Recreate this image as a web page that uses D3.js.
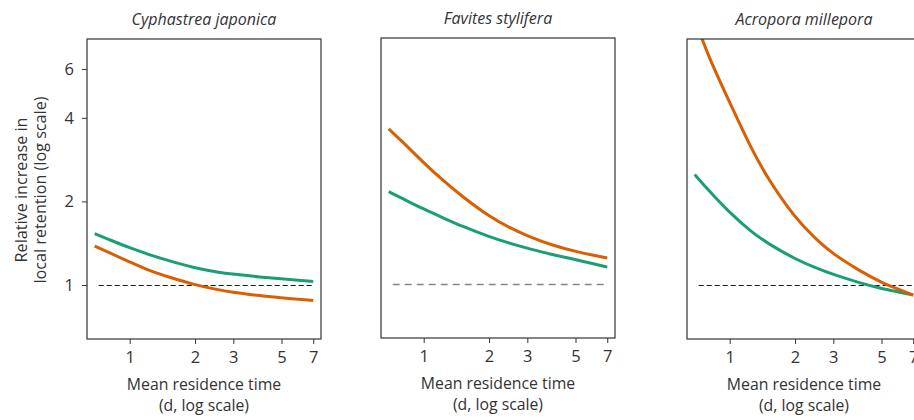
<!DOCTYPE html>
<meta charset="utf-8">
<script src="https://d3js.org/d3.v7.min.js"></script>
<style>
  body { margin: 0; background: #fff; }
  text { font-family: "Open Sans", sans-serif; fill: #333; }
</style>
<div id="my_dataviz"></div>
<script>

// data
var species = ["Cyphastrea japonica", "Favites stylifera", "Acropora millepora"];
var residence = [0.69, 0.8, 1, 1.25, 1.5, 2, 2.5, 3, 4, 5, 6, 7];

var greenCyph   = [1.53, 1.46, 1.36, 1.28, 1.225, 1.15, 1.115, 1.093, 1.068, 1.052, 1.04, 1.03];
var orangeCyph  = [1.38, 1.31, 1.21, 1.12, 1.07, 1.0, 0.965, 0.94, 0.915, 0.898, 0.888, 0.88];
var greenFav    = [2.15, 2.03, 1.86, 1.72, 1.615, 1.48, 1.40, 1.345, 1.27, 1.225, 1.185, 1.15];
var orangeFav   = [3.62, 3.25, 2.73, 2.33, 2.07, 1.75, 1.59, 1.49, 1.37, 1.31, 1.27, 1.24];
var greenAcro   = [2.50, 2.19, 1.82, 1.56, 1.41, 1.24, 1.15, 1.09, 1.016, 0.97, 0.944, 0.92];
var orangeAcro  = [9.1, 6.6, 4.55, 3.12, 2.41, 1.74, 1.46, 1.29, 1.12, 1.02, 0.964, 0.92];

var refLine = [0.72, 7];
var xTicks = [1, 2, 3, 5, 7];
var yTicks = [1, 2, 4, 6];

var panels = [
  {name: species[0], left: 87,  top: 39, green: greenCyph, orange: orangeCyph, dash: "#111", yAxis: true},
  {name: species[1], left: 381, top: 38, green: greenFav,  orange: orangeFav,  dash: "#888", yAxis: false},
  {name: species[2], left: 687, top: 39, green: greenAcro, orange: orangeAcro, dash: "#111", yAxis: false}
];

var width = 234, height = 300;

var svg = d3.select("#my_dataviz")
  .append("svg")
    .attr("width", 914)
    .attr("height", 420);

var x = d3.scaleLog().domain([0.636, 7.6]).range([0, width]);
var y = d3.scaleLog().domain([0.639, 7.69]).range([height, 0]);

var line = d3.line()
  .x(function(d) { return x(d[0]); })
  .y(function(d) { return y(d[1]); })
  .curve(d3.curveBasis);

panels.forEach(function(p, i) {
  var g = svg.append("g")
    .attr("transform", "translate(" + p.left + "," + p.top + ")");

  g.append("clipPath")
    .attr("id", "clip" + i)
    .append("rect")
      .attr("width", width)
      .attr("height", height);

  // title
  g.append("text")
    .attr("x", width / 2)
    .attr("y", -14)
    .attr("text-anchor", "middle")
    .attr("font-style", "italic")
    .attr("font-size", 16)
    .text(p.name);

  // x axis
  var xa = g.append("g")
    .attr("transform", "translate(0," + height + ")")
    .call(d3.axisBottom(x).tickValues(xTicks).tickFormat(d3.format("d")).tickSize(5).tickPadding(7));
  xa.select(".domain").remove();
  xa.selectAll("line").attr("stroke", "#333");
  xa.selectAll("text").attr("font-size", 16.5).attr("font-family", "Open Sans").attr("fill", "#333");

  if (p.yAxis) {
    var ya = g.append("g")
      .call(d3.axisLeft(y).tickValues(yTicks).tickFormat(d3.format("d")).tickSize(5).tickPadding(8));
    ya.select(".domain").remove();
    ya.selectAll("line").attr("stroke", "#333");
    ya.selectAll("text").attr("font-size", 16.5).attr("font-family", "Open Sans").attr("fill", "#333");
  }

  // axis title
  g.append("text")
    .attr("x", width / 2)
    .attr("y", height + 51)
    .attr("text-anchor", "middle")
    .attr("font-size", 15.8)
    .text("Mean residence time");
  g.append("text")
    .attr("x", width / 2)
    .attr("y", height + 72)
    .attr("text-anchor", "middle")
    .attr("font-size", 15.8)
    .text("(d, log scale)");

  var plot = g.append("g").attr("clip-path", "url(#clip" + i + ")");

  // reference line at 1
  plot.append("path")
    .datum(refLine.map(function(v) { return [v, 1]; }))
    .attr("fill", "none")
    .attr("stroke", p.dash)
    .attr("stroke-width", p.dash == "#888" ? 1.6 : 1)
    .attr("stroke-dasharray", p.dash == "#888" ? "7,5" : "5,3")
    .attr("transform", "translate(0,0.5)")
    .attr("d", line);

  plot.append("path")
    .datum(residence.map(function(v, j) { return [v, p.green[j]]; }))
    .attr("fill", "none")
    .attr("stroke", "#1b9e77")
    .attr("stroke-width", 3)
    .attr("d", line);

  plot.append("path")
    .datum(residence.map(function(v, j) { return [v, p.orange[j]]; }))
    .attr("fill", "none")
    .attr("stroke", "#d95f02")
    .attr("stroke-width", 3)
    .attr("d", line);

  // frame
  g.append("rect")
    .attr("width", width)
    .attr("height", height)
    .attr("fill", "none")
    .attr("stroke", "#333")
    .attr("stroke-width", 1.2);
});

// y axis title
var yl = svg.append("text")
  .attr("transform", "translate(26.5,190) rotate(-90)")
  .attr("text-anchor", "middle")
  .attr("font-size", 16.2);
yl.append("tspan").attr("x", 0).attr("dy", 0).text("Relative increase in");
yl.append("tspan").attr("x", 0).attr("dy", 19).text("local retention (log scale)");

</script>
